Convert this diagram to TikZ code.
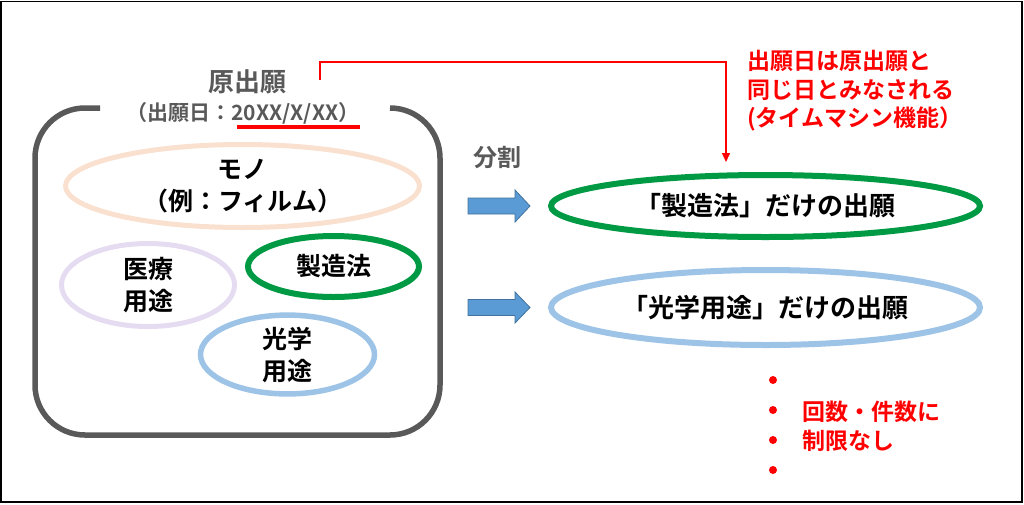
\documentclass[tikz,border=0pt]{standalone}
\usepackage{fontspec}
\setmainfont{Noto Sans CJK JP}[BoldFont={Noto Sans CJK JP Bold}]
\usetikzlibrary{shapes.geometric,arrows.meta}
\definecolor{darkgray}{HTML}{595959}
\definecolor{peach}{HTML}{F9E0CF}
\definecolor{lavender}{HTML}{E6DCF2}
\definecolor{okgreen}{HTML}{009A44}
\definecolor{lightblue}{HTML}{9DC3E6}
\definecolor{arrowblue}{HTML}{5B9BD5}
\definecolor{arrowedge}{HTML}{41719C}
\definecolor{alertred}{HTML}{FF0000}
\begin{document}
\begin{tikzpicture}[x=1pt,y=-1pt,
  oval/.style={ellipse, draw, inner sep=0pt, align=center, text=black},
  labelfont/.style={font=\bfseries\fontsize{25}{32}\selectfont},
  bigfont/.style={font=\bfseries\fontsize{26}{32}\selectfont},
  redfont/.style={font=\bfseries\fontsize{23}{28.5}\selectfont, text=alertred, inner sep=0pt, align=left},
  blockarrow/.style={fill=arrowblue, draw=arrowedge, line width=0.8pt},
  graytext/.style={text=darkgray, inner sep=0pt}]
\useasboundingbox (0,0) rectangle (1024,504);
% outer frame
\draw[black, line width=1.8pt] (1,1.5) rectangle (1022,502);

% container with gap for the title
\draw[darkgray, line width=5.5pt, rounded corners=50pt]
  (100,108) -- (35,108) -- (35,435) -- (440,435) -- (440,108) -- (390,108);

% title
\node[graytext, font=\bfseries\fontsize{26}{30}\selectfont] (title) at (247,82) {原出願};
\node[graytext, font=\bfseries\fontsize{21}{26}\selectfont] (date) at (243,113) {（出願日：20XX/X/XX）};
\draw[alertred, line width=3.5pt] (237,127) -- (360,127);

% inner ellipses
\node[oval, labelfont, draw=peach, line width=5pt, minimum width=354pt, minimum height=83pt] (mono) at (242.5,186) {モノ\\（例：フィルム）};
\node[oval, labelfont, draw=okgreen, line width=6pt, minimum width=171pt, minimum height=61pt] (seizo) at (333.5,266.5) {製造法};
\node[oval, labelfont, draw=lavender, line width=5pt, minimum width=173pt, minimum height=83pt] (iryo) at (148,285) {医療\\用途};
\node[oval, labelfont, draw=lightblue, line width=5.5pt, minimum width=174pt, minimum height=76pt] (kogaku) at (287.5,354.5) {光学\\用途};

% split label and block arrows
\node[graytext, font=\bfseries\fontsize{24}{28}\selectfont] (split) at (497.5,158) {分割};
\draw[blockarrow] (468,198) -- (515,198) -- (515,190) -- (530,206) -- (515,222) -- (515,214) -- (468,214) -- cycle;
\draw[blockarrow] (468,299.5) -- (515,299.5) -- (515,292) -- (530,307.5) -- (515,323) -- (515,315.5) -- (468,315.5) -- cycle;

% result ellipses
\node[oval, bigfont, draw=okgreen, line width=6pt, minimum width=429pt, minimum height=62pt] (gbig) at (765.5,206) {「製造法」だけの出願};
\node[oval, bigfont, draw=lightblue, line width=6pt, minimum width=429pt, minimum height=75pt] (bbig) at (765.5,307.5) {「光学用途」だけの出願};

% red note and connector
\node[redfont, anchor=west] (note) at (747,91) {出願日は原出願と\\同じ日とみなされる\\(タイムマシン機能）};
\coordinate (rs) at (320,80);
\coordinate (rt) at (726,162);
\draw[alertred, line width=1.5pt, -{Triangle[width=8pt,length=9pt]}] (rs) -- (320,62) -| (rt);

% bullets
\foreach \yy in {380,410,440,470} \fill[alertred] (773,\yy) circle (4pt);
\node[redfont, anchor=west, font=\bfseries\fontsize{23}{29}\selectfont] (limit) at (802,426) {回数・件数に\\制限なし};
\end{tikzpicture}
\end{document}
